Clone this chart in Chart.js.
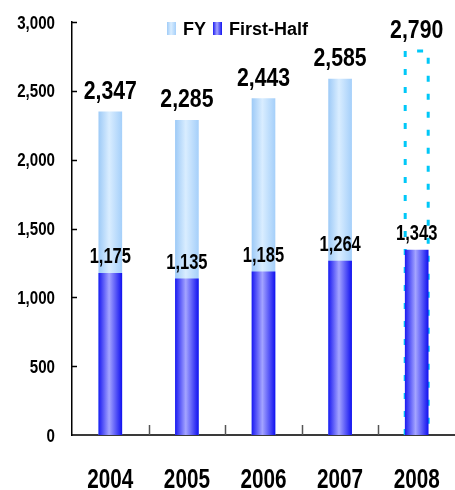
<!DOCTYPE html>
<html>
<head>
<meta charset="utf-8">
<script src="https://cdn.jsdelivr.net/npm/chart.js@4"></script>
<style>
  html, body { margin: 0; padding: 0; background: #ffffff; }
  #wrap { width: 455px; height: 490px; position: relative; }
</style>
</head>
<body>
<div id="wrap"><canvas id="c"></canvas></div>
<script>
// Fiscal-year totals and first-half results
const years = ['2004', '2005', '2006', '2007', '2008'];
const fyValues = [2347, 2285, 2443, 2585, 2790];
const firstHalfValues = [1175, 1135, 1185, 1264, 1343];
const fyForecast = [false, false, false, false, true];
const yTickValues = [0, 500, 1000, 1500, 2000, 2500, 3000];
const seriesNames = ['FY', 'First-Half'];

const FONT = "'Liberation Sans', Arial, sans-serif";
const BAR_W = 23;

const fyStops = [[0, '#9fcbf7'], [0.45, '#d9edff'], [1, '#a6d0fa']];
const fhStops = [[0, '#1e1ef2'], [0.45, '#a4a4ff'], [1, '#1414f0']];

function hGradient(ctx, x0, x1, stops) {
  const g = ctx.createLinearGradient(x0, 0, x1, 0);
  stops.forEach(s => g.addColorStop(s[0], s[1]));
  return g;
}

function barFill(stops, skip) {
  return (c) => {
    if (skip && skip[c.dataIndex]) return 'rgba(0,0,0,0)';
    const xs = c.chart.scales.x;
    if (!xs || c.dataIndex === undefined) return stops[1][1];
    const cx = xs.getPixelForValue(c.dataIndex);
    if (!isFinite(cx)) return stops[1][1];
    return hGradient(c.chart.ctx, cx - BAR_W / 2, cx + BAR_W / 2, stops);
  };
}

const fmt = v => v.toLocaleString('en-US');

// Condensed bold text: horizontally squeezed glyphs
function narrowText(ctx, text, x, y, size, sx, align) {
  ctx.save();
  ctx.font = 'bold ' + size + 'px ' + FONT;
  ctx.translate(x, y);
  ctx.scale(sx, 1);
  ctx.textAlign = align;
  ctx.textBaseline = 'alphabetic';
  ctx.fillStyle = '#000';
  ctx.fillText(text, 0, 0);
  ctx.restore();
}

// Dashed outline for forecast totals, drawn behind the first-half bars
const forecastOutline = {
  id: 'forecastOutline',
  afterDatasetDraw(chart, args) {
    if (args.index !== 0) return;
    const ctx = chart.ctx;
    ctx.save();
    ctx.strokeStyle = '#00c8f8';
    ctx.lineWidth = 3;
    ctx.setLineDash([6, 12]);
    args.meta.data.forEach((el, i) => {
      if (!fyForecast[i]) return;
      const p = el.getProps(['x', 'y', 'base', 'width'], true);
      const l = p.x - p.width / 2, r = p.x + p.width / 2;
      ctx.beginPath();
      ctx.moveTo(l, p.base);
      ctx.lineTo(l, p.y);
      ctx.lineTo(r, p.y);
      ctx.lineTo(r, p.base);
      ctx.stroke();
    });
    ctx.restore();
  }
};

// Value labels above each bar
const valueLabels = {
  id: 'valueLabels',
  afterDatasetsDraw(chart) {
    const ctx = chart.ctx;
    chart.data.datasets.forEach((ds, di) => {
      const meta = chart.getDatasetMeta(di);
      meta.data.forEach((el, i) => {
        const p = el.getProps(['x', 'y'], true);
        if (di === 0) narrowText(ctx, fmt(ds.data[i]), p.x, p.y - 13, 25, 0.85, 'center');
        else narrowText(ctx, fmt(ds.data[i]), p.x, p.y - 10, 22, 0.75, 'center');
      });
    });
  }
};

// Axis tick labels (from the scales' own ticks) and short inward tick marks
const axisDecor = {
  id: 'axisDecor',
  afterDraw(chart) {
    const ctx = chart.ctx;
    const a = chart.chartArea;
    const xs = chart.scales.x, ys = chart.scales.y;

    ys.ticks.forEach((t, i) => {
      const y = ys.getPixelForTick(i);
      const label = t.label !== undefined ? t.label : fmt(t.value);
      narrowText(ctx, label, a.left - 17, y + 6.5, 18, 0.84, 'right');
    });
    xs.ticks.forEach((t, i) => {
      const x = xs.getPixelForTick(i);
      const label = t.label !== undefined ? t.label : xs.getLabelForValue(t.value);
      narrowText(ctx, label, x, a.bottom + 53, 28, 0.74, 'center');
    });

    ctx.save();
    ctx.strokeStyle = '#000';
    ctx.lineWidth = 1.5;
    ys.ticks.forEach((t, i) => {
      if (t.value === 0) return;
      const y = Math.round(ys.getPixelForTick(i)) + 0.5;
      ctx.beginPath();
      ctx.moveTo(a.left, y);
      ctx.lineTo(a.left + 5, y);
      ctx.stroke();
    });
    ctx.strokeStyle = '#555';
    for (let i = 1; i < xs.ticks.length; i++) {
      const x = Math.round((xs.getPixelForTick(i - 1) + xs.getPixelForTick(i)) / 2) + 0.5;
      ctx.beginPath();
      ctx.moveTo(x, a.bottom);
      ctx.lineTo(x, a.bottom - 10);
      ctx.stroke();
    }
    ctx.restore();
  }
};

// Legend placed inside the top of the plot area
const insideLegend = {
  id: 'insideLegend',
  afterDraw(chart) {
    const ctx = chart.ctx;
    const a = chart.chartArea;
    const size = 18, sx = 1.0;
    let x = a.left + 95;
    const top = a.top, h = 13, w = 9;
    [fyStops, fhStops].forEach((stops, i) => {
      ctx.save();
      ctx.fillStyle = hGradient(ctx, x, x + w, stops);
      ctx.fillRect(x, top, w, h);
      ctx.restore();
      x += w + 7;
      narrowText(ctx, seriesNames[i], x, top + 13, size, sx, 'left');
      ctx.save();
      ctx.font = 'bold ' + size + 'px ' + FONT;
      x += ctx.measureText(seriesNames[i]).width * sx + 7;
      ctx.restore();
    });
  }
};

new Chart(document.getElementById('c'), {
  type: 'bar',
  data: {
    labels: years,
    datasets: [
      {
        label: seriesNames[0],
        data: fyValues,
        backgroundColor: barFill(fyStops, fyForecast),
        borderWidth: 0,
        barThickness: BAR_W,
        grouped: false,
        order: 1
      },
      {
        label: seriesNames[1],
        data: firstHalfValues,
        backgroundColor: barFill(fhStops),
        borderWidth: 0,
        barThickness: BAR_W,
        grouped: false,
        order: 0
      }
    ]
  },
  options: {
    responsive: true,
    maintainAspectRatio: false,
    animation: false,
    layout: { padding: { top: 22, right: 0, left: 0, bottom: 0 } },
    plugins: {
      legend: { display: false },
      tooltip: { enabled: false }
    },
    scales: {
      x: {
        offset: true,
        grid: { display: false },
        border: { display: true, color: '#3a3a3a', width: 2 },
        ticks: { display: false },
        afterFit(s) { s.height = 55; }
      },
      y: {
        min: 0,
        max: 3000,
        grid: { display: false },
        border: { display: true, color: '#000', width: 1.5 },
        afterBuildTicks(s) { s.ticks = yTickValues.map(v => ({ value: v })); },
        ticks: { display: false, callback: v => fmt(v) },
        afterFit(s) { s.width = 72; }
      }
    }
  },
  plugins: [forecastOutline, valueLabels, axisDecor, insideLegend]
});
</script>
</body>
</html>
